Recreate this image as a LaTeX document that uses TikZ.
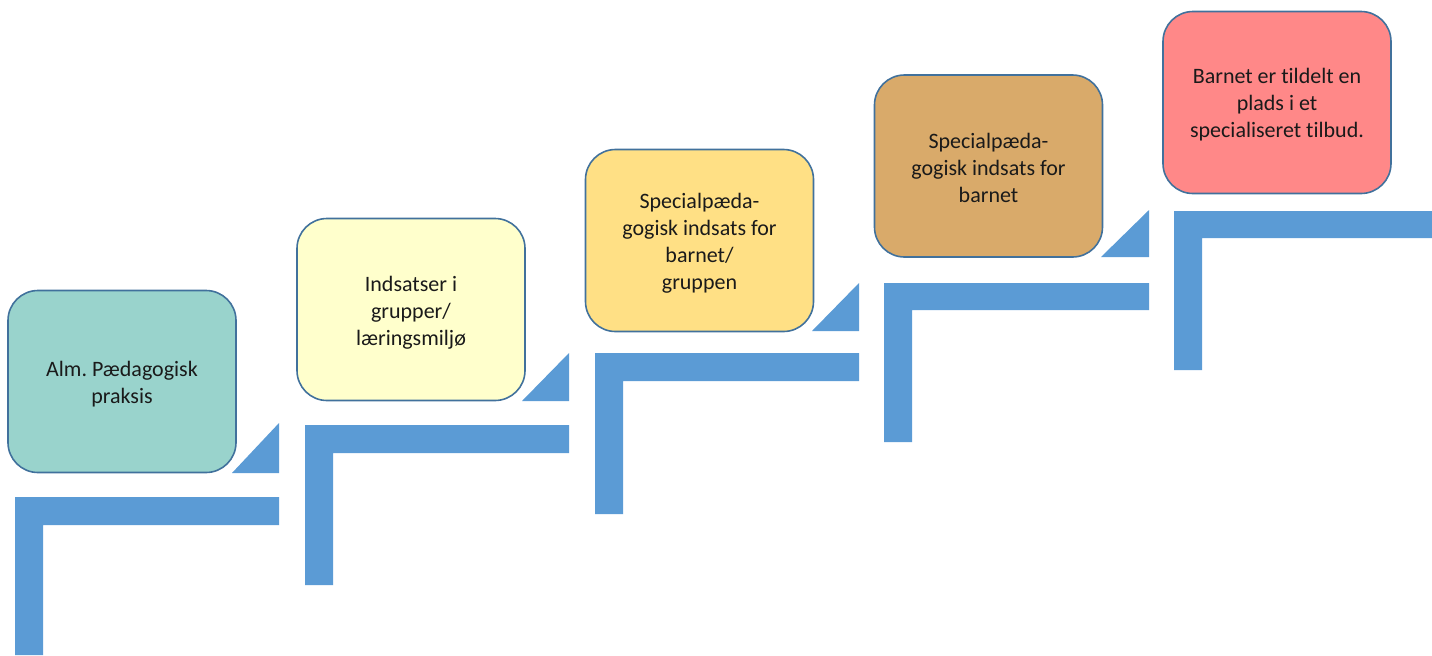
\documentclass[tikz,border=0pt]{standalone}
\usepackage{fontspec}
\setmainfont{Carlito}[Ligatures=NoCommon]
\frenchspacing
\definecolor{stepblue}{HTML}{5B9BD5}
\definecolor{edgeblue}{HTML}{41719C}
\definecolor{cA}{HTML}{99D3CC}
\definecolor{cB}{HTML}{FFFFCC}
\definecolor{cC}{HTML}{FFE085}
\definecolor{cD}{HTML}{D9AA6A}
\definecolor{cE}{HTML}{FF8888}
\definecolor{txt}{HTML}{1A1A1A}
\tikzset{
  stagebox/.style={draw=edgeblue, line width=0.8pt, rounded corners=15pt,
    minimum width=114pt, minimum height=91pt, inner sep=0pt},
  stagetext/.style={align=center, inner sep=0pt, text=txt,
    font=\fontsize{11}{13.5}\selectfont},
  stairfill/.style={fill=stepblue, draw=none},
}
\begin{document}
\begin{tikzpicture}[x=0.5pt, y=-0.5pt]
\useasboundingbox (0,0) rectangle (1432,655);
% boxes
\node[stagebox, fill=cA] (b1) at (122,381.5) {};
\node[stagebox, fill=cB] (b2) at (411,309.5) {};
\node[stagebox, fill=cC] (b3) at (699.5,240.5) {};
\node[stagebox, fill=cD] (b4) at (988.5,166) {};
\node[stagebox, fill=cE] (b5) at (1277,102.5) {};
% texts
\node[stagetext] (t1) at ([yshift=-1.5pt]b1.center) {Alm. Pædagogisk\\praksis};
\node[stagetext] (t2) at ([yshift=-1.5pt]b2.center) {Indsatser i\\grupper/\\læringsmiljø};
\node[stagetext] (t3) at ([yshift=-1.2pt]b3.center) {Specialpæda-\\gogisk indsats for\\barnet/\\gruppen};
\node[stagetext] (t4) at ([yshift=-1.2pt]b4.center) {Specialpæda-\\gogisk indsats for\\barnet};
\node[stagetext] (t5) at ([yshift=-1.2pt]b5.center) {Barnet er tildelt en\\plads i et\\specialiseret tilbud.};
% triangles
\fill[stairfill] (232,473) -- (279,473) -- (279,423) -- cycle;
\fill[stairfill] (522,401) -- (569,401) -- (569,353) -- cycle;
\fill[stairfill] (812,331) -- (859,331) -- (859,283) -- cycle;
\fill[stairfill] (1101,257) -- (1149,257) -- (1149,210) -- cycle;
% L-shaped steps
\fill[stairfill] (15,497) -- (279,497) -- (279,525) -- (43,525) -- (43,655) -- (15,655) -- cycle;
\fill[stairfill] (305,425) -- (569,425) -- (569,453) -- (333,453) -- (333,585) -- (305,585) -- cycle;
\fill[stairfill] (595,353) -- (859,353) -- (859,381) -- (623,381) -- (623,514) -- (595,514) -- cycle;
\fill[stairfill] (884,283) -- (1149,283) -- (1149,310) -- (912,310) -- (912,442) -- (884,442) -- cycle;
\fill[stairfill] (1174,211) -- (1432,211) -- (1432,238) -- (1202,238) -- (1202,370) -- (1174,370) -- cycle;
\end{tikzpicture}
\end{document}
